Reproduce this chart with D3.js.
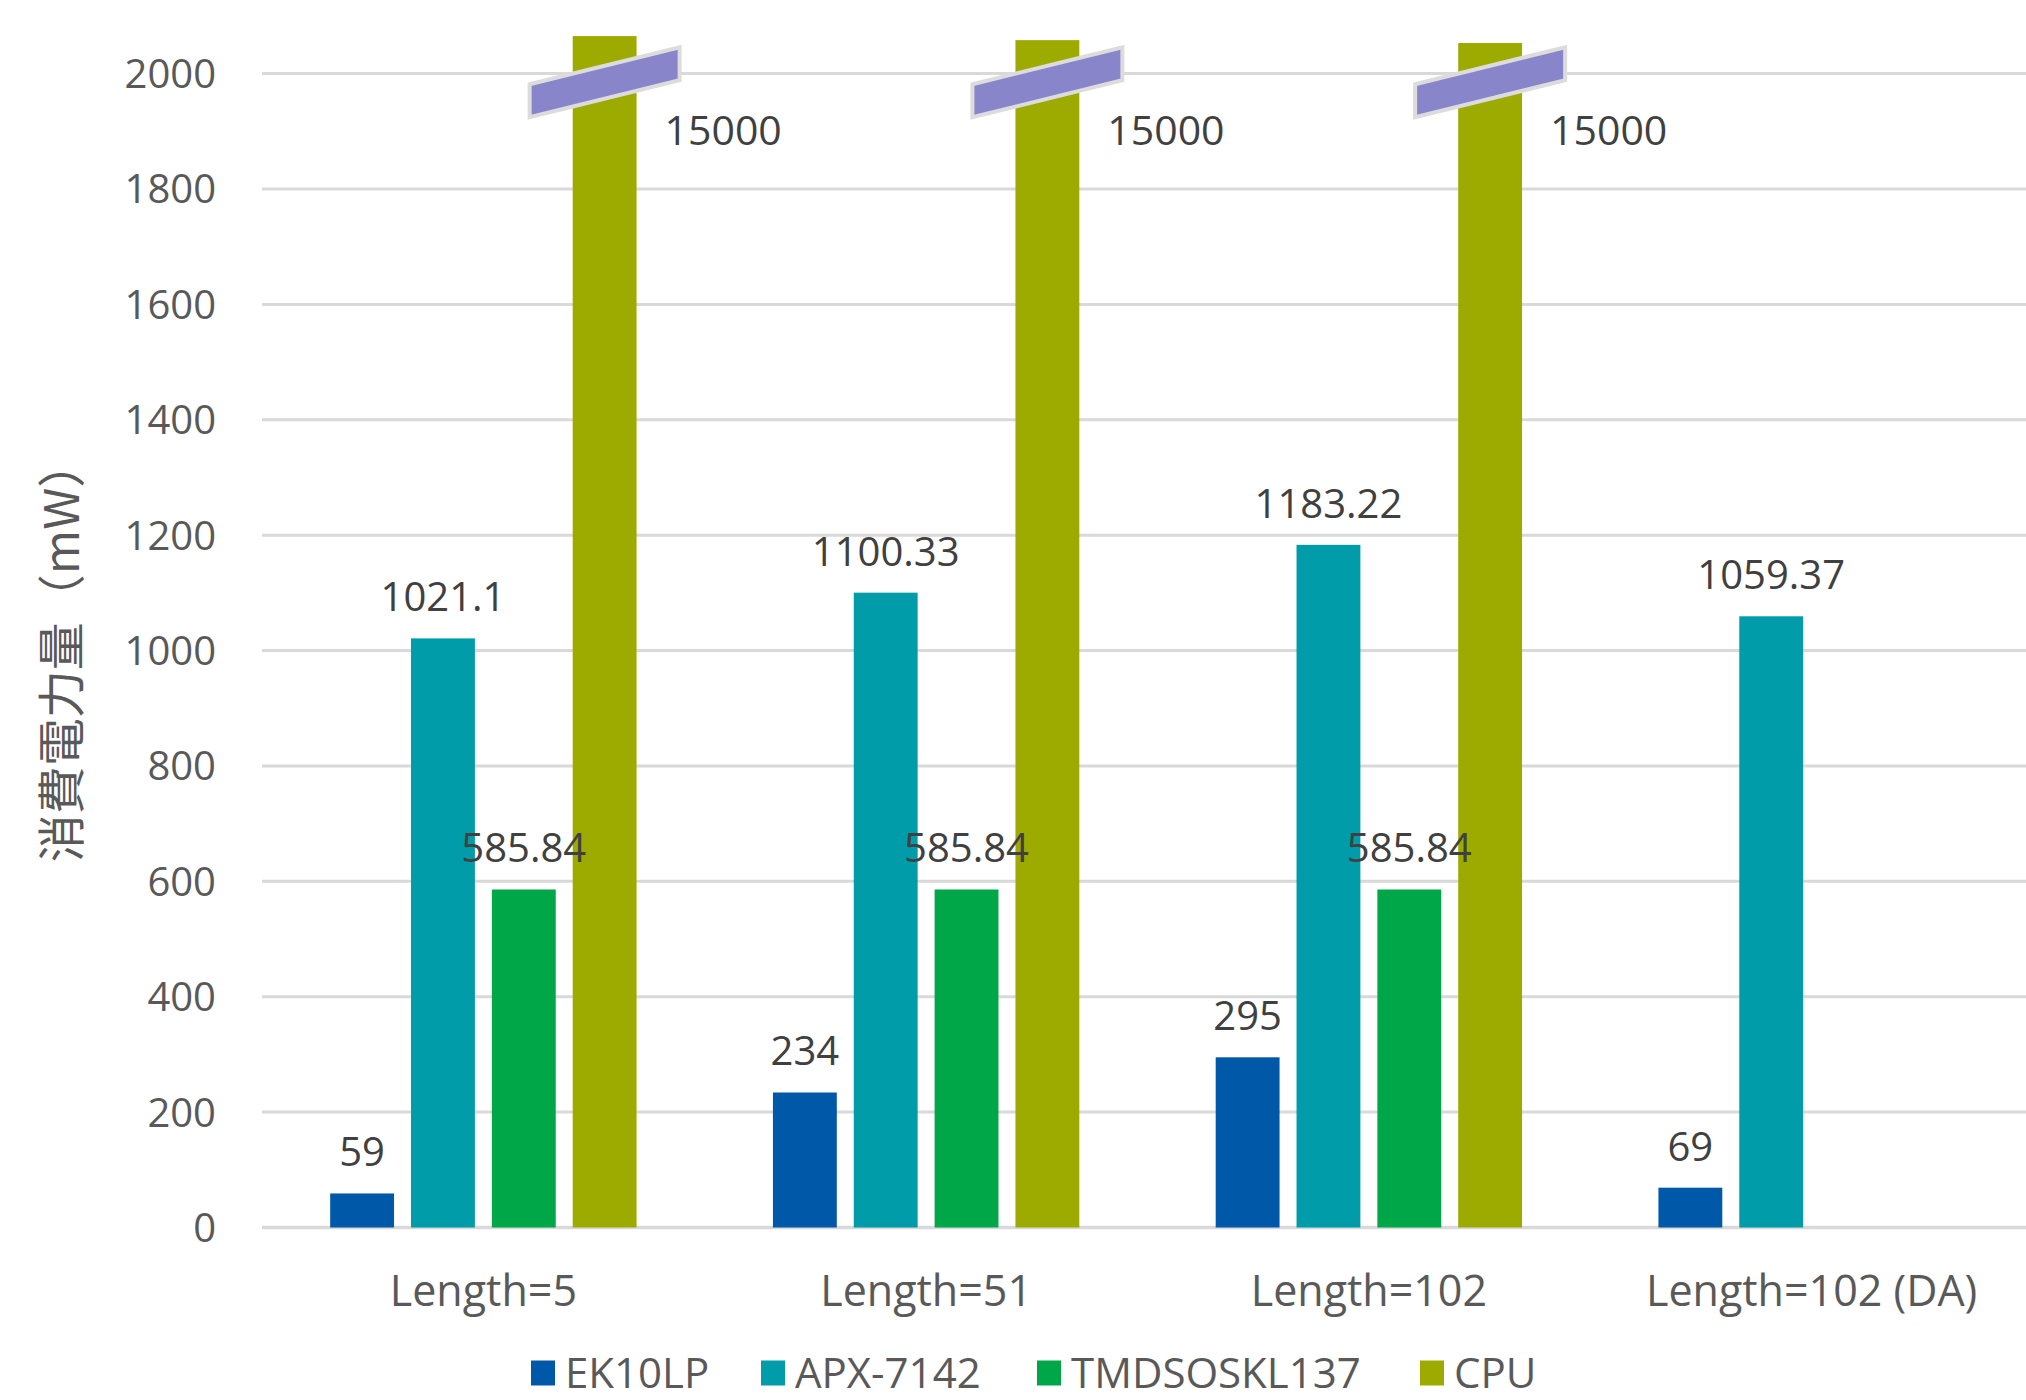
<!DOCTYPE html>
<html>
<head>
<meta charset="utf-8">
<script src="https://cdn.jsdelivr.net/npm/d3@7"></script>
<style>
  html, body { margin: 0; padding: 0; background: #ffffff; }
  svg { display: block; }
  text { font-family: "Open Sans", "Noto Sans", sans-serif; }
</style>
</head>
<body>
<svg id="chart" width="2026" height="1400"></svg>
<script>
// ---- data ----
const categories = ["Length=5", "Length=51", "Length=102", "Length=102 (DA)"];
const seriesNames = ["EK10LP", "APX-7142", "TMDSOSKL137", "CPU"];
const ek10lp = [59, 234, 295, 69];
const apx7142 = [1021.1, 1100.33, 1183.22, 1059.37];
const tmdsoskl137 = [585.84, 585.84, 585.84, null];
const cpu = [15000, 15000, 15000, null];
// the CPU bars run off the axis: value at which each broken bar is cut
const cpuCut = [2065, 2058, 2053, null];
const yTicks = [0, 200, 400, 600, 800, 1000, 1200, 1400, 1600, 1800, 2000];
const seriesColors = ["#0058A9", "#009CA9", "#00A748", "#9DAB00"];
const yTitle = "消費電力量（mW）";

const seriesValues = [ek10lp, apx7142, tmdsoskl137, cpu];

// ---- layout ----
const svg = d3.select("#chart");
const plotLeft = 262, plotRight = 2026, plotTop = 73.6, plotBottom = 1227.5;
const bandRight = 2033;

const y = d3.scaleLinear().domain([0, 2000]).range([plotBottom, plotTop]);
const x0 = d3.scaleBand().domain(categories).range([plotLeft, bandRight])
  .paddingInner(0.308).paddingOuter(0.154);
const x1 = d3.scaleBand().domain(seriesNames).range([0, x0.bandwidth()])
  .paddingInner(0.21).paddingOuter(0);

// gridlines
svg.append("g").selectAll("line").data(yTicks).join("line")
  .attr("x1", plotLeft).attr("x2", plotRight)
  .attr("y1", d => y(d)).attr("y2", d => y(d))
  .attr("stroke", "#d9d9d9").attr("stroke-width", d => d === 0 ? 3.5 : 3);

// y tick labels
svg.append("g").selectAll("text").data(yTicks).join("text")
  .attr("x", 216).attr("y", d => y(d))
  .attr("dy", "0.36em")
  .attr("text-anchor", "end")
  .attr("font-size", 40)
  .attr("fill", "#595959")
  .text(d => d);

// y title
svg.append("text")
  .attr("transform", "translate(79,651) rotate(-90)")
  .attr("text-anchor", "middle")
  .attr("font-size", 48)
  .attr("fill", "#595959")
  .style("font-family", "'Noto Sans CJK JP', sans-serif")
  .text(yTitle);

// bars
const barData = [];
categories.forEach((c, ci) => {
  seriesNames.forEach((s, si) => {
    const v = seriesValues[si][ci];
    if (v === null || v === undefined) return;
    const drawn = (s === "CPU") ? cpuCut[ci] : v;
    barData.push({ c, ci, s, si, v, drawn });
  });
});

svg.append("g").selectAll("rect").data(barData).join("rect")
  .attr("x", d => x0(d.c) + x1(d.s))
  .attr("width", x1.bandwidth())
  .attr("y", d => y(d.drawn))
  .attr("height", d => y(0) - y(d.drawn))
  .attr("fill", d => seriesColors[d.si]);

// value labels (non-CPU above the bar)
svg.append("g").selectAll("text").data(barData.filter(d => d.s !== "CPU")).join("text")
  .attr("x", d => x0(d.c) + x1(d.s) + x1.bandwidth() / 2)
  .attr("y", d => y(d.drawn) - 27)
  .attr("text-anchor", "middle")
  .attr("font-size", 40)
  .attr("fill", "#404040")
  .text(d => d.v);

// break markers on CPU bars
const cpuBars = barData.filter(d => d.s === "CPU");
const breakValue = 1985, halfW = 75, rise = 18.5, halfT = 16.5;
svg.append("g").selectAll("path").data(cpuBars).join("path")
  .attr("d", d => {
    const cx = x0(d.c) + x1(d.s) + x1.bandwidth() / 2;
    const yc = y(breakValue);
    return `M${cx - halfW},${yc + rise - halfT} L${cx + halfW},${yc - rise - halfT} L${cx + halfW},${yc - rise + halfT} L${cx - halfW},${yc + rise + halfT} Z`;
  })
  .attr("fill", "#8985CB")
  .attr("stroke", "#dcdcdc")
  .attr("stroke-width", 4)
  .attr("stroke-linejoin", "miter");

// CPU labels to the right of the break
svg.append("g").selectAll("text").data(cpuBars).join("text")
  .attr("x", d => x0(d.c) + x1(d.s) + x1.bandwidth() + 28)
  .attr("y", y(breakValue) + 48)
  .attr("dy", "0.36em")
  .attr("font-size", 41)
  .attr("fill", "#404040")
  .text(d => d.v);

// category labels
svg.append("g").selectAll("text").data(categories).join("text")
  .attr("x", d => x0(d) + x0.bandwidth() / 2)
  .attr("y", 1291)
  .attr("dy", "0.36em")
  .attr("text-anchor", "middle")
  .attr("font-size", 43)
  .attr("fill", "#595959")
  .text(d => d);

// legend
const legendX = [531, 761, 1037, 1420];
const legend = svg.append("g").selectAll("g").data(seriesNames).join("g")
  .attr("transform", (d, i) => `translate(${legendX[i]},1373)`);
legend.append("rect")
  .attr("x", 0).attr("y", -12.5).attr("width", 24).attr("height", 25)
  .attr("fill", (d, i) => seriesColors[i]);
legend.append("text")
  .attr("x", 34).attr("y", 0).attr("dy", "0.36em")
  .attr("font-size", 42)
  .attr("fill", "#595959")
  .text(d => d);
</script>
</body>
</html>
